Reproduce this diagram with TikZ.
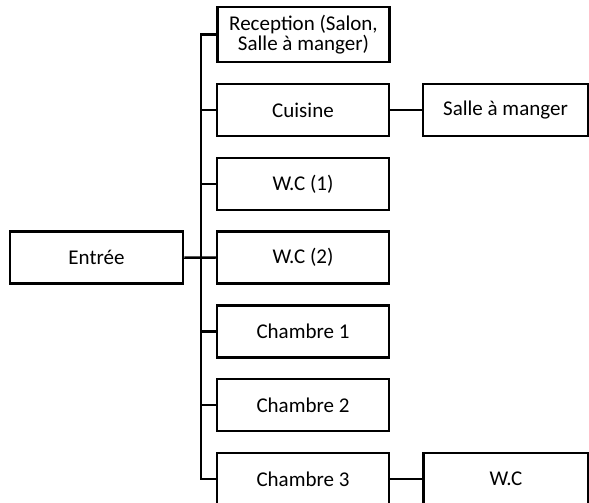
\documentclass[tikz,border=0pt]{standalone}
\usepackage{fontspec}
\setmainfont{Carlito}
\begin{document}
\begin{tikzpicture}[x=1pt,y=-1pt,
  box/.style={draw=black,line width=2.5pt,minimum width=172pt,minimum height=52pt,inner sep=0pt,align=center,font=\fontsize{21}{20}\selectfont},
  sbox/.style={box,minimum width=165pt},
  conn/.style={draw=black,line width=2.5pt}]
\clip (0,0) rectangle (589,503);
\node[box,minimum width=173pt] (entree) at (96.5,257.5) {Entrée};
\node[box,minimum height=55pt] (rec) at (303.5,34.5) {Reception (Salon,\\Salle à manger)};
\node[box] (cuis) at (303,110) {Cuisine};
\node[box] (wc1) at (303,183.8) {W.C (1)};
\node[box] (wc2) at (303,257.6) {W.C (2)};
\node[box] (ch1) at (303,331.4) {Chambre 1};
\node[box] (ch2) at (303,405.2) {Chambre 2};
\node[box] (ch3) at (303,479) {Chambre 3};
\node[sbox] (sam) at (505.5,110) {Salle à manger};
\node[sbox] (wc) at (506,479) {W.C};
\coordinate (ttop) at (201,34.5);
\coordinate (tbot) at (201,479);
\draw[conn] (rec.west) -- (ttop) -- (tbot) -- (ch3.west);
\draw[conn] (entree.east) -- (wc2.west);
\foreach \n in {cuis,wc1,ch1,ch2}
  \draw[conn] (ttop |- \n.west) -- (\n.west);
\draw[conn] (cuis.east) -- (sam.west);
\draw[conn] (ch3.east) -- (wc.west);
\end{tikzpicture}
\end{document}
